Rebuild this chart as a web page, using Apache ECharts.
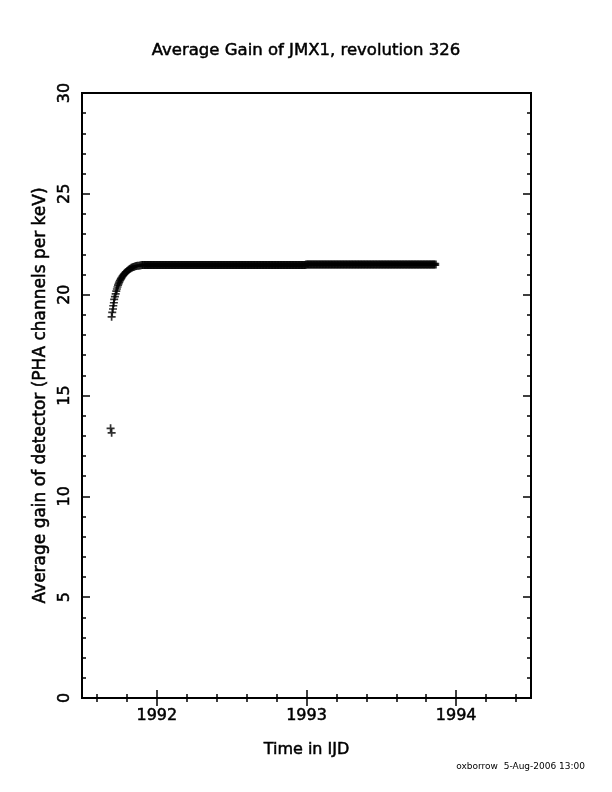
<!DOCTYPE html>
<html><head><meta charset="utf-8">
<script src="https://cdn.jsdelivr.net/npm/echarts@6/dist/echarts.min.js"></script>
<style>html,body{margin:0;padding:0;background:#fff}#c{width:612px;height:792px}</style>
</head><body><div id="c"></div><script>
const titleText = 'Average Gain of JMX1, revolution 326';
const xName = 'Time in IJD';
const yName = 'Average gain of detector (PHA channels per keV)';
const footerText = 'oxborrow  5-Aug-2006 13:00';
const xMajorTicks = [1992, 1993, 1994];
const xMinorTicks = [1991.6, 1991.8, 1992.2, 1992.4, 1992.6, 1992.8, 1993.2, 1993.4, 1993.6, 1993.8, 1994.2, 1994.4];
const yMajorTicks = [0, 5, 10, 15, 20, 25, 30];
const yMinorTicks = [1, 2, 3, 4, 6, 7, 8, 9, 11, 12, 13, 14, 16, 17, 18, 19, 21, 22, 23, 24, 26, 27, 28, 29];

const outlierTimes = [1991.691, 1991.698];
const outlierGain = [13.37, 13.15];

const riseTimes = [1991.698, 1991.702, 1991.707, 1991.709, 1991.713, 1991.715, 1991.720, 1991.725, 1991.729, 1991.733,
  1991.737, 1991.741, 1991.745, 1991.749, 1991.753, 1991.757, 1991.761, 1991.765, 1991.770, 1991.775,
  1991.780, 1991.785, 1991.790, 1991.795, 1991.800, 1991.806, 1991.812, 1991.818, 1991.824, 1991.830,
  1991.836, 1991.842, 1991.849, 1991.856, 1991.863, 1991.870, 1991.878, 1991.886, 1991.894, 1991.902];
const riseGain = [18.90, 19.12, 19.29, 19.45, 19.60, 19.77, 19.90, 20.04, 20.18, 20.28,
  20.38, 20.47, 20.55, 20.62, 20.69, 20.75, 20.80, 20.85, 20.91, 20.96,
  21.01, 21.05, 21.09, 21.13, 21.16, 21.20, 21.24, 21.27, 21.30, 21.33,
  21.35, 21.37, 21.39, 21.41, 21.42, 21.43, 21.44, 21.45, 21.46, 21.47];

const flatTimes = [
  1991.91, 1991.92, 1991.93, 1991.94, 1991.95, 1991.96, 1991.97, 1991.98, 1991.99,
  1992.00, 1992.01, 1992.02, 1992.03, 1992.04, 1992.05, 1992.06, 1992.07, 1992.08, 1992.09,
  1992.10, 1992.11, 1992.12, 1992.13, 1992.14, 1992.15, 1992.16, 1992.17, 1992.18, 1992.19,
  1992.20, 1992.21, 1992.22, 1992.23, 1992.24, 1992.25, 1992.26, 1992.27, 1992.28, 1992.29,
  1992.30, 1992.31, 1992.32, 1992.33, 1992.34, 1992.35, 1992.36, 1992.37, 1992.38, 1992.39,
  1992.40, 1992.41, 1992.42, 1992.43, 1992.44, 1992.45, 1992.46, 1992.47, 1992.48, 1992.49,
  1992.50, 1992.51, 1992.52, 1992.53, 1992.54, 1992.55, 1992.56, 1992.57, 1992.58, 1992.59,
  1992.60, 1992.61, 1992.62, 1992.63, 1992.64, 1992.65, 1992.66, 1992.67, 1992.68, 1992.69,
  1992.70, 1992.71, 1992.72, 1992.73, 1992.74, 1992.75, 1992.76, 1992.77, 1992.78, 1992.79,
  1992.80, 1992.81, 1992.82, 1992.83, 1992.84, 1992.85, 1992.86, 1992.87, 1992.88, 1992.89,
  1992.90, 1992.91, 1992.92, 1992.93, 1992.94, 1992.95, 1992.96, 1992.97, 1992.98, 1992.99,
  1993.00, 1993.01, 1993.02, 1993.03, 1993.04, 1993.05, 1993.06, 1993.07, 1993.08, 1993.09,
  1993.10, 1993.11, 1993.12, 1993.13, 1993.14, 1993.15, 1993.16, 1993.17, 1993.18, 1993.19,
  1993.20, 1993.21, 1993.22, 1993.23, 1993.24, 1993.25, 1993.26, 1993.27, 1993.28, 1993.29,
  1993.30, 1993.31, 1993.32, 1993.33, 1993.34, 1993.35, 1993.36, 1993.37, 1993.38, 1993.39,
  1993.40, 1993.41, 1993.42, 1993.43, 1993.44, 1993.45, 1993.46, 1993.47, 1993.48, 1993.49,
  1993.50, 1993.51, 1993.52, 1993.53, 1993.54, 1993.55, 1993.56, 1993.57, 1993.58, 1993.59,
  1993.60, 1993.61, 1993.62, 1993.63, 1993.64, 1993.65, 1993.66, 1993.67, 1993.68, 1993.69,
  1993.70, 1993.71, 1993.72, 1993.73, 1993.74, 1993.75, 1993.76, 1993.77, 1993.78, 1993.79,
  1993.80, 1993.81, 1993.82, 1993.83, 1993.84, 1993.85, 1993.86];
const flatGain = [
  21.47, 21.47, 21.47, 21.47, 21.47, 21.47, 21.47, 21.47, 21.47,
  21.47, 21.47, 21.47, 21.47, 21.47, 21.47, 21.47, 21.47, 21.47, 21.47,
  21.47, 21.47, 21.47, 21.47, 21.47, 21.47, 21.47, 21.47, 21.47, 21.47,
  21.47, 21.47, 21.47, 21.47, 21.47, 21.47, 21.47, 21.47, 21.47, 21.47,
  21.47, 21.47, 21.47, 21.47, 21.47, 21.47, 21.47, 21.47, 21.47, 21.47,
  21.47, 21.47, 21.47, 21.47, 21.47, 21.47, 21.47, 21.47, 21.47, 21.47,
  21.47, 21.47, 21.47, 21.47, 21.47, 21.47, 21.47, 21.47, 21.47, 21.47,
  21.47, 21.47, 21.47, 21.47, 21.47, 21.47, 21.47, 21.47, 21.47, 21.47,
  21.47, 21.47, 21.47, 21.47, 21.47, 21.47, 21.47, 21.47, 21.47, 21.47,
  21.47, 21.47, 21.47, 21.47, 21.47, 21.47, 21.47, 21.47, 21.47, 21.47,
  21.47, 21.47, 21.47, 21.47, 21.47, 21.47, 21.47, 21.47, 21.47, 21.47,
  21.50, 21.50, 21.50, 21.50, 21.50, 21.50, 21.50, 21.50, 21.50, 21.50,
  21.50, 21.50, 21.50, 21.50, 21.50, 21.50, 21.50, 21.50, 21.50, 21.50,
  21.50, 21.50, 21.50, 21.50, 21.50, 21.50, 21.50, 21.50, 21.50, 21.50,
  21.50, 21.50, 21.50, 21.50, 21.50, 21.50, 21.50, 21.50, 21.50, 21.50,
  21.50, 21.50, 21.50, 21.50, 21.50, 21.50, 21.50, 21.50, 21.50, 21.50,
  21.50, 21.50, 21.50, 21.50, 21.50, 21.50, 21.50, 21.50, 21.50, 21.50,
  21.50, 21.50, 21.50, 21.50, 21.50, 21.50, 21.50, 21.50, 21.50, 21.50,
  21.50, 21.50, 21.50, 21.50, 21.50, 21.50, 21.50, 21.50, 21.50, 21.50,
  21.50, 21.50, 21.50, 21.50, 21.50, 21.50, 21.50];

const FONT = 'DejaVu Sans';
const BLACK = '#000';
const TXT = { fontFamily: FONT, color: BLACK, textBorderColor: BLACK, textBorderWidth: 0.5 };
const PLUS = 'path://M5,0L5,10M0,5L10,5';

function pairs(ts, gs) { return ts.map((t, i) => [t, gs[i]]); }
const earlyPoints = pairs(outlierTimes, outlierGain).concat(pairs(riseTimes, riseGain));
const flatPoints = pairs(flatTimes, flatGain);

function xAx(pos, ticks, len, opts) {
  return Object.assign({
    type: 'value', position: pos, min: 1991.5, max: 1994.5,
    axisLine: { show: false },
    axisTick: { show: true, inside: true, length: len, customValues: ticks, lineStyle: { color: BLACK, width: 1.5 } },
    axisLabel: { show: false },
    splitLine: { show: false }
  }, opts || {});
}
function yAx(pos, ticks, len, opts) {
  return Object.assign({
    type: 'value', position: pos, min: 0, max: 30,
    axisLine: { show: false },
    axisTick: { show: true, inside: true, length: len, customValues: ticks, lineStyle: { color: BLACK, width: 1.5 } },
    axisLabel: { show: false },
    splitLine: { show: false }
  }, opts || {});
}

const chart = echarts.init(document.getElementById('c'), null, { renderer: 'canvas' });
chart.setOption({
  animation: false,
  backgroundColor: '#fff',
  title: {
    text: titleText, left: 'center', top: 37,
    textStyle: Object.assign({ fontSize: 16.5, fontWeight: 'normal' }, TXT)
  },
  graphic: [{
    type: 'text', right: 27, top: 762,
    style: { text: footerText, fontFamily: FONT, fontSize: 9, fill: BLACK }
  }],
  grid: { left: 82, right: 81, top: 93, bottom: 94, containLabel: false,
    show: true, borderColor: BLACK, borderWidth: 2, backgroundColor: 'transparent' },
  xAxis: [
    xAx('bottom', xMajorTicks, 8, {
      axisLabel: Object.assign({ show: true, customValues: xMajorTicks, margin: 10, fontSize: 16,
        formatter: function (v) { return String(v); } }, TXT),
      name: xName, nameLocation: 'middle', nameGap: 44,
      nameTextStyle: Object.assign({ fontSize: 16 }, TXT)
    }),
    xAx('bottom', xMinorTicks, 4),
    xAx('top', xMajorTicks, 8),
    xAx('top', xMinorTicks, 4)
  ],
  yAxis: [
    yAx('left', yMajorTicks, 8, {
      axisLabel: Object.assign({ show: true, customValues: yMajorTicks, rotate: 90, margin: 9, fontSize: 16,
        formatter: function (v) { return String(v); } }, TXT),
      name: yName, nameLocation: 'middle', nameGap: 21, nameRotate: 90,
      nameTextStyle: Object.assign({ fontSize: 17 }, TXT)
    }),
    yAx('left', yMinorTicks, 4),
    yAx('right', yMajorTicks, 8),
    yAx('right', yMinorTicks, 4)
  ],
  series: [{
    type: 'scatter',
    xAxisIndex: 0, yAxisIndex: 0,
    data: earlyPoints,
    symbol: PLUS,
    symbolSize: 8,
    itemStyle: { color: 'none', borderColor: BLACK, borderWidth: 1.7 },
    emphasis: { disabled: true },
    silent: true
  }, {
    type: 'scatter',
    xAxisIndex: 0, yAxisIndex: 0,
    data: flatPoints,
    symbol: PLUS,
    symbolSize: 8,
    itemStyle: { color: 'none', borderColor: BLACK, borderWidth: 3.2 },
    emphasis: { disabled: true },
    silent: true
  }]
});
</script></body></html>
